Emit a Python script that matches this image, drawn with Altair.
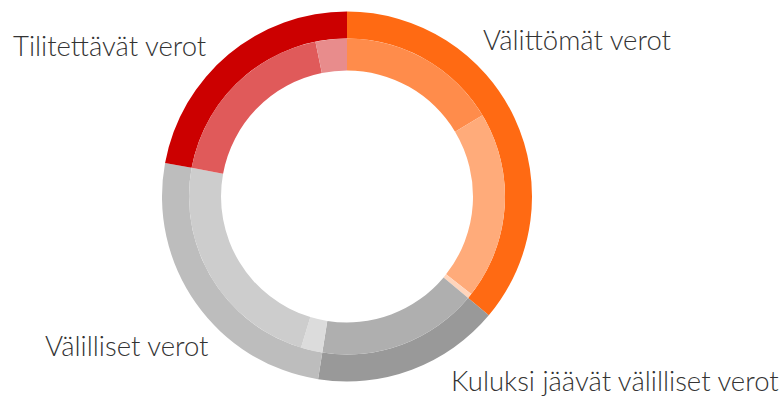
import altair as alt
import pandas as pd

# Outer ring (main categories), values in percent
outer_cats = ["Välittömät verot", "Kuluksi jäävät välilliset verot", "Välilliset verot", "Tilitettävät verot"]
outer_vals = [36.1, 16.4, 25.4, 22.1]
outer_cols = ["#FF6A13", "#999999", "#BDBDBD", "#CC0000"]

# Inner ring (sub-categories)
inner_cats = ["V1", "V2", "V3", "K1", "L1", "L2", "T1", "T2"]
inner_vals = [16.4, 19.2, 0.5, 16.4, 2.2, 23.2, 18.9, 3.2]
inner_cols = ["#FF8C4B", "#FFAB7A", "#FFD5BC", "#AFAFAF", "#DCDCDC", "#CDCDCD", "#E05A5A", "#E88C8C"]

# Labels
label_texts = ["Välittömät verot", "Kuluksi jäävät välilliset verot", "Välilliset verot", "Tilitettävät verot"]

outer_df = pd.DataFrame({"cat": outer_cats, "val": outer_vals, "idx": range(len(outer_cats))})
inner_df = pd.DataFrame({"cat": inner_cats, "val": inner_vals, "idx": range(len(inner_cats))})

CX, CY = 347, 196.5

outer = alt.Chart(outer_df).mark_arc(radius=185, radius2=158).encode(
    theta=alt.Theta("val:Q", stack=True, scale=alt.Scale(domain=[0, 100])),
    order=alt.Order("idx:Q"),
    color=alt.Color("cat:N", scale=alt.Scale(domain=outer_cats, range=outer_cols), legend=None),
    x=alt.value(CX), y=alt.value(CY),
)

inner = alt.Chart(inner_df).mark_arc(radius=158, radius2=126).encode(
    theta=alt.Theta("val:Q", stack=True, scale=alt.Scale(domain=[0, 100])),
    order=alt.Order("idx:Q"),
    color=alt.Color("cat:N", scale=alt.Scale(domain=inner_cats, range=inner_cols), legend=None),
    x=alt.value(CX), y=alt.value(CY),
)

label_pos = [(483, 50), (451, 391), (45, 356), (13, 56)]
labels = []
for t, (lx, ly) in zip(label_texts, label_pos):
    labels.append(
        alt.Chart(pd.DataFrame({"t": [t]})).mark_text(
            align="left", baseline="alphabetic", font="Lato", fontSize=27.5,
            fontWeight=300, color="#333333"
        ).encode(text="t:N", x=alt.value(lx), y=alt.value(ly))
    )

chart = alt.layer(outer, inner, *labels).resolve_scale(color="independent").properties(
    width=783, height=401, autosize=alt.AutoSizeParams(type="none"), padding=0
).configure_view(stroke=None)

chart.save("out.html", embed_options={"renderer": "svg", "actions": False})
